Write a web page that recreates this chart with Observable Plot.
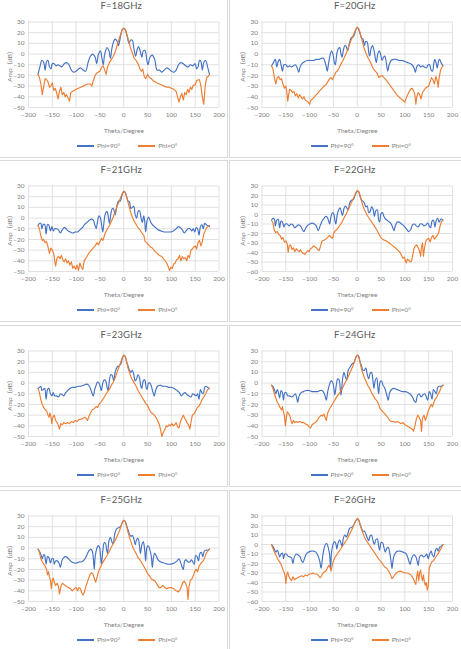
<!DOCTYPE html>
<html>
<head>
<meta charset="utf-8">
<script src="https://cdn.jsdelivr.net/npm/d3@7"></script>
<script src="https://cdn.jsdelivr.net/npm/@observablehq/plot@0.6"></script>
<style>
  html, body { margin: 0; padding: 0; background: #fff; }
  body { width: 461px; height: 649px; overflow: hidden; position: relative;
         font-family: Lato, "Noto Sans CJK SC", "DejaVu Sans", sans-serif; }
  .box { position: absolute; border: 1px solid #d9d9d9; box-sizing: border-box; }
  .title { position: absolute; width: 120px; text-align: center; font-size: 9.5px;
           line-height: 12px; color: #595959; white-space: nowrap; letter-spacing: 0.2px; }
  .chart { position: absolute; }
  .legend { position: absolute; width: 200px; display: flex; justify-content: center;
            align-items: center; font-size: 6.5px; line-height: 8px; color: #7f7f7f; white-space: nowrap; }
  .legend .sw { display: inline-block; width: 17px; height: 1.3px; margin-right: 3px; }
  .legend .it { display: flex; align-items: center; margin: 0 9px; }
</style>
</head>
<body>
<script>
// ---------- data ----------
const freqLabels = ["F=18GHz", "F=20GHz", "F=21GHz", "F=22GHz", "F=23GHz", "F=24GHz", "F=25GHz", "F=26GHz"];
const yMins = [-50, -50, -50, -60, -50, -50, -50, -60];
const yMax = 30;
const xTicks = [-200, -150, -100, -50, 0, 50, 100, 150, 200];
const seriesNames = ["Phi=90°", "Phi=0°"];
const seriesColors = ["#4472C4", "#ED7D31"];
const xLabel = "Theta/Degree";
const yLabel = "Amp（dB）";

const f18_phi90 = [[-180,-19],[-176,-12],[-172,-6],[-168,-8],[-165,-15],[-162,-7],[-159,-6],[-156,-12],[-153,-14],[-150,-9],[-146,-9],[-142,-11],[-138,-10],[-134,-11],[-130,-12],[-125,-9],[-120,-8],[-115,-10],[-110,-15],[-105,-17],[-100,-16],[-95,-14],[-90,-13],[-85,-15],[-80,-16],[-75,-8],[-70,-2],[-65,0],[-60,-3],[-57,-9],[-53,0],[-49,3],[-46,-3],[-43,-10],[-40,0],[-35,6],[-31,3],[-28,-4],[-25,5],[-21,12],[-18,14],[-14,12],[-11,8],[-7,16],[-3,23],[0,24],[3,23],[7,17],[11,10],[14,13],[18,13],[21,6],[25,-2],[28,4],[31,7],[35,2],[38,-3],[41,3],[45,3],[48,-5],[51,-10],[55,-3],[60,-1],[65,-5],[70,-15],[75,-15],[80,-17],[85,-15],[90,-13],[95,-14],[100,-16],[105,-17],[110,-15],[115,-10],[120,-8],[125,-9],[130,-11],[135,-12],[140,-10],[145,-11],[150,-9],[153,-14],[156,-12],[159,-6],[162,-7],[165,-15],[168,-8],[172,-6],[176,-12],[180,-19]];
const f18_phi0 = [[-180,-19],[-177,-22],[-174,-28],[-171,-38],[-168,-30],[-165,-23],[-162,-24],[-159,-26],[-156,-31],[-153,-30],[-150,-27],[-147,-34],[-144,-32],[-141,-36],[-138,-42],[-135,-35],[-132,-31],[-129,-38],[-126,-36],[-123,-40],[-120,-38],[-117,-41],[-114,-44],[-111,-36],[-108,-35],[-104,-34],[-100,-33],[-95,-32],[-90,-31],[-85,-30],[-80,-29],[-75,-28],[-70,-28],[-67,-30],[-64,-25],[-60,-20],[-57,-18],[-54,-17],[-50,-16],[-46,-12],[-43,-11],[-40,-15],[-37,-19],[-34,-12],[-30,-8],[-26,-5],[-22,-2],[-18,2],[-14,8],[-10,14],[-6,19],[-3,23],[0,24],[3,23],[6,19],[10,13],[14,6],[18,1],[22,-4],[26,-6],[30,-9],[34,-14],[37,-16],[40,-14],[43,-21],[46,-23],[50,-19],[54,-22],[58,-23],[62,-25],[66,-26],[70,-27],[75,-28],[80,-29],[85,-30],[90,-31],[95,-31],[100,-32],[105,-33],[110,-35],[113,-40],[116,-45],[119,-40],[122,-37],[125,-43],[128,-36],[131,-38],[134,-33],[137,-36],[140,-31],[143,-33],[146,-29],[150,-29],[153,-25],[156,-24],[159,-24],[162,-30],[165,-40],[168,-47],[171,-30],[174,-22],[177,-21],[180,-19]];

const f20_phi90 = [[-180,-11],[-176,-8],[-172,-5],[-169,-12],[-166,-7],[-163,-5],[-160,-10],[-157,-16],[-154,-10],[-150,-10],[-146,-12],[-142,-11],[-138,-12],[-134,-11],[-130,-10],[-126,-13],[-123,-17],[-120,-12],[-116,-9],[-110,-7],[-104,-6],[-98,-6],[-92,-6],[-86,-5],[-80,-5],[-75,-4],[-71,-4],[-68,-7],[-65,-12],[-63,-16],[-60,-8],[-57,-1],[-54,3],[-51,0],[-48,-8],[-46,-10],[-43,0],[-40,5],[-37,6],[-34,0],[-32,-3],[-29,4],[-26,8],[-23,7],[-20,3],[-17,9],[-13,15],[-9,16],[-6,18],[-3,23],[0,25],[3,23],[6,19],[9,15],[12,14],[15,8],[18,12],[21,11],[24,2],[26,-2],[29,5],[32,8],[35,4],[38,-4],[40,-8],[43,0],[46,3],[49,0],[52,-6],[55,-3],[58,-2],[61,-8],[64,-16],[67,-10],[71,-6],[76,-5],[82,-5],[88,-6],[94,-6],[100,-7],[106,-8],[112,-9],[117,-11],[120,-14],[122,-17],[125,-12],[129,-10],[133,-12],[137,-11],[141,-12],[145,-13],[149,-10],[152,-10],[155,-15],[158,-16],[161,-8],[163,-5],[166,-9],[168,-13],[171,-6],[173,-5],[176,-8],[180,-11]];
const f20_phi0 = [[-180,-11],[-177,-14],[-174,-22],[-171,-28],[-168,-22],[-165,-21],[-162,-24],[-159,-23],[-156,-28],[-153,-32],[-150,-30],[-148,-35],[-146,-44],[-144,-38],[-142,-33],[-139,-34],[-136,-36],[-133,-35],[-130,-39],[-127,-37],[-124,-41],[-121,-38],[-118,-40],[-115,-42],[-112,-40],[-109,-43],[-106,-44],[-103,-45],[-100,-47],[-97,-43],[-94,-42],[-90,-40],[-86,-38],[-82,-36],[-78,-34],[-74,-32],[-70,-30],[-66,-29],[-62,-26],[-58,-23],[-55,-22],[-52,-24],[-48,-20],[-45,-17],[-42,-16],[-38,-13],[-34,-9],[-30,-6],[-26,-2],[-22,2],[-18,7],[-14,12],[-10,16],[-6,20],[-3,23],[0,25],[3,24],[6,20],[10,13],[14,6],[18,1],[22,-3],[26,-6],[30,-10],[34,-14],[38,-16],[42,-18],[45,-22],[48,-21],[52,-20],[56,-22],[60,-24],[65,-27],[70,-30],[75,-33],[80,-36],[85,-39],[90,-41],[95,-43],[100,-45],[103,-41],[106,-38],[109,-35],[112,-33],[115,-32],[118,-34],[121,-38],[123,-47],[125,-40],[128,-36],[131,-38],[134,-42],[137,-36],[140,-34],[143,-32],[146,-31],[150,-30],[153,-26],[156,-22],[159,-24],[162,-28],[165,-21],[168,-25],[170,-31],[172,-22],[175,-15],[178,-12],[180,-11]];

const f21_phi90 = [[-180,-7],[-177,-5],[-174,-5],[-172,-10],[-169,-6],[-166,-6],[-163,-15],[-160,-6],[-157,-7],[-154,-12],[-151,-8],[-148,-12],[-145,-10],[-141,-10],[-137,-11],[-133,-14],[-129,-11],[-125,-9],[-121,-10],[-117,-12],[-112,-13],[-107,-14],[-102,-13],[-97,-13],[-92,-11],[-87,-9],[-82,-6],[-77,-4],[-72,-2],[-68,-1],[-64,-2],[-61,-6],[-58,-10],[-55,-3],[-52,2],[-49,0],[-46,-8],[-44,-13],[-41,-2],[-38,5],[-35,6],[-32,0],[-30,-5],[-27,4],[-24,9],[-21,8],[-18,3],[-15,10],[-11,16],[-7,16],[-4,21],[0,25],[3,24],[6,20],[9,16],[12,15],[15,9],[18,10],[21,11],[24,3],[27,0],[30,6],[33,7],[36,1],[39,-4],[42,2],[44,-3],[46,-13],[49,-2],[52,1],[55,-2],[58,-5],[62,-7],[67,-9],[72,-11],[78,-12],[85,-13],[92,-13],[98,-13],[104,-12],[110,-10],[115,-8],[119,-9],[123,-11],[127,-14],[131,-12],[135,-10],[139,-10],[143,-12],[146,-10],[149,-13],[152,-9],[155,-10],[158,-16],[161,-8],[164,-6],[167,-10],[170,-5],[173,-6],[176,-7],[180,-8]];
const f21_phi0 = [[-180,-7],[-177,-10],[-174,-17],[-171,-21],[-168,-20],[-165,-23],[-162,-22],[-159,-27],[-156,-33],[-153,-28],[-150,-30],[-147,-33],[-145,-40],[-143,-45],[-140,-37],[-137,-36],[-134,-38],[-131,-35],[-128,-39],[-125,-41],[-122,-38],[-119,-42],[-116,-40],[-113,-44],[-110,-41],[-107,-47],[-104,-45],[-101,-48],[-98,-44],[-95,-49],[-92,-42],[-89,-46],[-86,-48],[-83,-40],[-80,-38],[-76,-35],[-72,-32],[-68,-30],[-64,-28],[-60,-26],[-56,-23],[-53,-25],[-50,-22],[-47,-19],[-44,-21],[-41,-17],[-38,-13],[-34,-10],[-30,-7],[-26,-3],[-22,1],[-18,6],[-14,11],[-10,15],[-6,20],[-3,23],[0,25],[3,24],[6,20],[10,13],[14,6],[18,1],[22,-3],[26,-6],[30,-9],[34,-11],[38,-14],[42,-16],[45,-22],[48,-23],[52,-25],[56,-27],[60,-28],[65,-31],[70,-33],[75,-35],[80,-36],[85,-39],[90,-42],[93,-45],[96,-49],[99,-46],[102,-47],[105,-43],[108,-42],[111,-39],[114,-38],[117,-35],[120,-40],[123,-36],[126,-38],[129,-37],[132,-40],[135,-35],[138,-37],[141,-30],[144,-29],[147,-27],[150,-26],[153,-29],[156,-23],[159,-21],[162,-26],[165,-22],[168,-15],[171,-12],[174,-9],[177,-8],[180,-7]];

const f22_phi90 = [[-180,-6],[-177,-4],[-174,-5],[-172,-12],[-169,-6],[-166,-5],[-163,-14],[-160,-7],[-157,-8],[-154,-13],[-151,-10],[-147,-10],[-143,-12],[-139,-10],[-135,-11],[-131,-14],[-127,-12],[-122,-11],[-118,-13],[-115,-16],[-112,-18],[-109,-15],[-105,-12],[-100,-10],[-95,-9],[-90,-10],[-86,-12],[-82,-17],[-78,-12],[-74,-7],[-70,-4],[-66,-2],[-63,-3],[-60,-7],[-58,-10],[-55,-2],[-52,2],[-49,0],[-47,-6],[-45,-10],[-42,0],[-39,5],[-36,7],[-33,2],[-31,-1],[-28,6],[-25,9],[-22,7],[-19,5],[-16,12],[-12,15],[-8,16],[-4,21],[0,25],[3,24],[6,19],[9,15],[12,14],[15,12],[18,8],[21,9],[24,2],[27,3],[30,8],[33,6],[36,-2],[39,4],[42,5],[45,-6],[47,-8],[50,1],[53,2],[56,-2],[60,-5],[65,-7],[70,-9],[74,-13],[77,-17],[80,-12],[84,-8],[88,-8],[93,-10],[98,-12],[103,-15],[108,-18],[112,-16],[116,-11],[120,-10],[124,-12],[128,-13],[132,-10],[136,-10],[140,-12],[144,-11],[148,-9],[151,-12],[154,-14],[157,-7],[160,-6],[163,-13],[166,-6],[169,-4],[172,-8],[175,-5],[178,-5],[180,-6]];
const f22_phi0 = [[-180,-6],[-177,-9],[-174,-17],[-171,-19],[-168,-18],[-165,-21],[-162,-22],[-159,-26],[-156,-24],[-153,-29],[-150,-28],[-147,-31],[-145,-40],[-143,-33],[-140,-32],[-137,-37],[-134,-35],[-131,-39],[-128,-36],[-125,-38],[-122,-39],[-119,-37],[-116,-40],[-113,-41],[-110,-42],[-107,-40],[-104,-38],[-101,-39],[-98,-36],[-95,-35],[-92,-33],[-89,-34],[-86,-35],[-83,-37],[-80,-38],[-77,-33],[-74,-28],[-70,-27],[-66,-26],[-62,-24],[-58,-22],[-55,-24],[-52,-25],[-49,-19],[-46,-17],[-43,-16],[-40,-14],[-36,-11],[-32,-8],[-28,-4],[-24,0],[-20,4],[-16,8],[-12,13],[-8,17],[-4,22],[0,25],[3,24],[6,20],[9,14],[12,9],[15,5],[18,2],[21,-1],[25,-4],[29,-7],[33,-10],[37,-13],[41,-16],[45,-20],[49,-24],[53,-26],[57,-27],[62,-28],[67,-30],[72,-32],[77,-34],[82,-36],[86,-38],[90,-40],[93,-43],[96,-46],[99,-45],[101,-49],[103,-51],[105,-47],[108,-48],[111,-50],[114,-49],[116,-44],[119,-36],[122,-33],[125,-32],[128,-35],[131,-39],[133,-44],[135,-34],[137,-30],[139,-44],[141,-36],[144,-28],[147,-26],[150,-25],[153,-29],[156,-24],[159,-22],[162,-26],[165,-24],[168,-22],[171,-19],[174,-12],[177,-7],[180,-6]];

const f23_phi90 = [[-180,-5],[-177,-4],[-174,-3],[-172,-7],[-169,-6],[-166,-5],[-163,-15],[-160,-6],[-157,-5],[-154,-10],[-151,-12],[-148,-9],[-145,-12],[-141,-12],[-137,-13],[-133,-10],[-129,-11],[-126,-12],[-122,-9],[-118,-7],[-113,-5],[-108,-4],[-102,-4],[-96,-3],[-90,-3],[-84,-2],[-78,-1],[-74,-2],[-70,-5],[-67,-9],[-64,-12],[-61,-6],[-58,-2],[-55,1],[-52,0],[-49,-4],[-47,-7],[-44,0],[-41,3],[-38,2],[-35,-4],[-33,-7],[-30,3],[-27,8],[-24,7],[-21,2],[-18,10],[-14,15],[-10,16],[-6,18],[-3,23],[0,26],[3,25],[6,20],[9,16],[12,12],[15,10],[18,12],[21,8],[24,2],[27,4],[30,8],[33,5],[36,-3],[38,-5],[41,2],[44,3],[47,-4],[49,-6],[52,0],[55,0],[58,-3],[61,-8],[64,-12],[67,-7],[71,-3],[76,-2],[82,-3],[88,-3],[94,-4],[100,-4],[106,-5],[112,-7],[117,-9],[121,-12],[125,-10],[129,-9],[133,-11],[137,-12],[141,-13],[145,-10],[149,-11],[152,-12],[155,-10],[158,-15],[161,-6],[164,-9],[167,-10],[170,-4],[173,-3],[176,-4],[180,-5]];
const f23_phi0 = [[-180,-5],[-177,-9],[-174,-16],[-171,-20],[-168,-23],[-165,-25],[-162,-26],[-159,-30],[-157,-32],[-155,-28],[-153,-31],[-151,-38],[-149,-32],[-146,-30],[-143,-35],[-140,-37],[-137,-40],[-135,-43],[-132,-38],[-129,-39],[-126,-37],[-122,-38],[-118,-37],[-114,-38],[-110,-36],[-106,-37],[-102,-35],[-98,-36],[-94,-34],[-90,-34],[-86,-33],[-82,-32],[-79,-33],[-76,-35],[-73,-31],[-70,-28],[-66,-25],[-62,-24],[-58,-22],[-55,-23],[-52,-20],[-48,-18],[-45,-16],[-42,-14],[-38,-11],[-34,-8],[-30,-6],[-26,-2],[-22,1],[-18,5],[-14,10],[-10,15],[-6,20],[-3,24],[0,26],[3,25],[6,20],[9,14],[12,10],[15,6],[18,3],[22,0],[26,-3],[30,-7],[34,-10],[38,-13],[42,-16],[46,-19],[50,-21],[54,-25],[58,-28],[62,-29],[66,-31],[70,-34],[74,-38],[77,-43],[80,-50],[83,-46],[86,-44],[89,-40],[92,-41],[95,-39],[98,-40],[101,-38],[104,-40],[107,-39],[110,-37],[113,-41],[116,-42],[119,-36],[122,-33],[125,-30],[128,-33],[131,-35],[134,-38],[137,-40],[139,-43],[141,-37],[144,-30],[147,-29],[150,-27],[153,-24],[156,-22],[159,-21],[162,-18],[165,-15],[168,-13],[172,-10],[176,-6],[180,-5]];

const f24_phi90 = [[-180,-2],[-177,-3],[-174,-6],[-171,-10],[-168,-6],[-166,-8],[-163,-14],[-160,-7],[-157,-9],[-155,-16],[-152,-9],[-149,-9],[-146,-12],[-142,-12],[-138,-13],[-134,-12],[-130,-10],[-127,-14],[-125,-18],[-122,-12],[-118,-9],[-113,-8],[-107,-7],[-101,-7],[-95,-8],[-89,-8],[-83,-8],[-78,-7],[-74,-7],[-70,-9],[-67,-13],[-65,-16],[-62,-8],[-58,-1],[-55,2],[-52,1],[-49,-5],[-47,-11],[-44,-2],[-41,4],[-38,3],[-36,-4],[-34,-11],[-31,3],[-28,10],[-25,6],[-22,3],[-19,12],[-15,15],[-11,18],[-7,19],[-3,24],[0,26],[3,25],[6,20],[9,16],[12,12],[15,12],[18,14],[21,8],[24,4],[27,9],[30,10],[33,2],[35,-5],[38,3],[41,5],[43,-3],[45,-10],[48,1],[51,2],[54,-2],[57,-4],[60,-8],[63,-13],[65,-16],[68,-9],[72,-6],[77,-5],[83,-6],[89,-7],[95,-8],[101,-8],[107,-9],[113,-11],[117,-14],[120,-17],[123,-18],[126,-12],[130,-10],[134,-13],[138,-11],[142,-10],[145,-13],[148,-16],[151,-8],[154,-10],[157,-15],[160,-6],[163,-8],[166,-10],[169,-4],[172,-3],[176,-3],[180,-2]];
const f24_phi0 = [[-180,-2],[-177,-5],[-174,-10],[-171,-14],[-168,-18],[-165,-20],[-162,-23],[-159,-25],[-157,-22],[-155,-27],[-153,-30],[-151,-40],[-149,-33],[-147,-27],[-145,-28],[-142,-30],[-139,-35],[-137,-38],[-134,-35],[-131,-37],[-128,-36],[-125,-37],[-121,-36],[-117,-37],[-113,-37],[-109,-38],[-105,-39],[-101,-41],[-98,-42],[-95,-39],[-92,-38],[-88,-37],[-84,-35],[-80,-32],[-76,-30],[-73,-31],[-70,-29],[-67,-33],[-65,-35],[-62,-28],[-58,-24],[-54,-21],[-50,-18],[-46,-15],[-42,-12],[-38,-10],[-34,-7],[-30,-4],[-26,0],[-22,3],[-18,7],[-14,11],[-10,15],[-6,20],[-3,24],[0,26],[3,25],[6,19],[9,13],[12,9],[15,5],[18,2],[22,-2],[26,-5],[30,-9],[34,-12],[38,-15],[42,-17],[45,-20],[48,-24],[52,-26],[56,-28],[60,-30],[64,-32],[68,-35],[72,-36],[76,-36],[80,-37],[84,-36],[88,-37],[92,-38],[96,-37],[100,-39],[104,-40],[108,-41],[112,-42],[115,-43],[118,-45],[121,-40],[124,-34],[127,-30],[130,-32],[133,-35],[135,-45],[137,-33],[140,-30],[143,-35],[146,-31],[149,-26],[152,-23],[155,-20],[158,-22],[161,-18],[164,-15],[167,-13],[170,-10],[173,-8],[176,-4],[180,-2]];

const f25_phi90 = [[-180,-1],[-177,-3],[-174,-6],[-171,-10],[-168,-6],[-166,-7],[-163,-15],[-160,-8],[-157,-9],[-154,-14],[-151,-10],[-148,-10],[-146,-15],[-143,-12],[-140,-12],[-136,-14],[-133,-18],[-130,-12],[-126,-9],[-122,-8],[-118,-9],[-114,-11],[-109,-13],[-104,-14],[-99,-14],[-94,-13],[-89,-13],[-85,-12],[-80,-9],[-76,-5],[-72,-2],[-69,-1],[-66,-3],[-64,-9],[-62,-20],[-60,-8],[-57,-1],[-54,2],[-51,1],[-49,-6],[-47,-15],[-44,-3],[-41,5],[-38,4],[-36,-2],[-34,-5],[-31,7],[-28,10],[-25,6],[-22,4],[-19,13],[-15,18],[-11,19],[-7,20],[-3,24],[0,26],[3,25],[6,21],[9,17],[12,13],[15,11],[18,12],[21,9],[24,3],[27,8],[30,9],[33,2],[35,-5],[38,3],[41,6],[44,-2],[46,-12],[49,1],[52,2],[55,-2],[58,-8],[60,-18],[62,-10],[65,-5],[68,-7],[72,-11],[78,-13],[85,-14],[92,-15],[99,-15],[106,-14],[112,-12],[116,-10],[119,-13],[122,-17],[125,-20],[128,-12],[131,-11],[135,-13],[139,-13],[142,-11],[145,-13],[148,-15],[151,-7],[154,-8],[157,-12],[160,-5],[163,-4],[166,-8],[169,-3],[172,-2],[176,-2],[180,-1]];
const f25_phi0 = [[-180,-1],[-177,-4],[-174,-10],[-171,-13],[-168,-15],[-165,-17],[-162,-20],[-160,-25],[-158,-22],[-156,-27],[-154,-30],[-152,-38],[-150,-30],[-148,-28],[-146,-32],[-143,-35],[-140,-33],[-137,-36],[-135,-43],[-132,-36],[-129,-33],[-126,-34],[-123,-35],[-120,-36],[-116,-37],[-112,-38],[-108,-40],[-104,-38],[-100,-37],[-97,-40],[-94,-37],[-91,-38],[-88,-42],[-85,-44],[-82,-40],[-79,-35],[-75,-30],[-71,-25],[-68,-23],[-65,-24],[-62,-28],[-59,-32],[-56,-27],[-53,-22],[-50,-19],[-46,-15],[-42,-12],[-38,-9],[-34,-6],[-30,-3],[-26,1],[-22,4],[-18,7],[-14,11],[-10,15],[-6,20],[-3,24],[0,26],[3,25],[6,20],[9,15],[12,10],[15,6],[18,2],[22,-2],[26,-5],[30,-9],[34,-11],[38,-14],[42,-17],[46,-20],[50,-24],[54,-26],[58,-29],[62,-30],[66,-31],[70,-34],[74,-37],[78,-37],[82,-35],[86,-37],[90,-38],[95,-37],[100,-37],[105,-38],[110,-40],[115,-41],[118,-39],[121,-36],[124,-32],[127,-31],[130,-33],[133,-37],[135,-48],[137,-36],[140,-30],[143,-29],[146,-26],[149,-22],[152,-20],[155,-22],[158,-17],[161,-15],[164,-13],[167,-12],[170,-9],[173,-5],[176,-3],[180,-1]];

const f26_phi90 = [[-180,0],[-177,-2],[-174,-5],[-171,-8],[-168,-6],[-166,-8],[-163,-13],[-160,-10],[-157,-9],[-155,-15],[-152,-10],[-149,-10],[-146,-12],[-142,-13],[-138,-14],[-135,-20],[-132,-13],[-128,-10],[-124,-11],[-120,-13],[-117,-17],[-114,-19],[-111,-15],[-107,-10],[-102,-8],[-97,-7],[-92,-7],[-87,-8],[-83,-11],[-79,-17],[-76,-25],[-73,-14],[-70,-5],[-67,0],[-64,1],[-61,-3],[-58,-11],[-56,-25],[-54,-8],[-51,0],[-48,3],[-45,1],[-43,-5],[-40,2],[-37,5],[-34,1],[-32,-2],[-29,7],[-26,10],[-23,8],[-20,11],[-16,17],[-12,18],[-8,20],[-4,24],[0,27],[3,26],[6,21],[9,17],[12,14],[15,14],[18,11],[21,7],[24,4],[27,9],[30,10],[33,4],[36,0],[39,5],[42,6],[45,-2],[47,-6],[50,2],[53,2],[56,-3],[59,-8],[62,-4],[65,-3],[68,-8],[71,-18],[73,-25],[76,-14],[80,-9],[85,-7],[90,-7],[96,-8],[101,-9],[105,-12],[108,-17],[111,-21],[114,-15],[118,-11],[122,-12],[125,-16],[128,-22],[131,-13],[135,-11],[139,-13],[143,-12],[146,-10],[149,-15],[152,-10],[155,-7],[158,-11],[161,-13],[164,-6],[167,-4],[170,-7],[173,-3],[176,-2],[180,0]];
const f26_phi0 = [[-180,0],[-177,-4],[-174,-8],[-171,-11],[-168,-14],[-165,-17],[-162,-19],[-159,-22],[-157,-25],[-155,-28],[-153,-30],[-151,-35],[-150,-41],[-148,-32],[-146,-29],[-144,-33],[-141,-36],[-138,-38],[-135,-34],[-132,-37],[-129,-36],[-125,-35],[-121,-34],[-117,-33],[-113,-34],[-109,-32],[-105,-33],[-101,-31],[-97,-31],[-93,-30],[-89,-31],[-85,-31],[-81,-33],[-78,-35],[-75,-33],[-72,-30],[-69,-29],[-66,-28],[-63,-25],[-60,-22],[-57,-24],[-55,-28],[-53,-23],[-50,-17],[-46,-13],[-42,-10],[-38,-7],[-34,-4],[-30,-1],[-26,2],[-22,5],[-18,9],[-14,13],[-10,17],[-6,22],[-3,25],[0,27],[3,26],[6,21],[9,16],[12,12],[15,8],[18,5],[22,2],[26,-1],[30,-4],[34,-7],[38,-10],[42,-13],[46,-16],[50,-18],[54,-21],[58,-24],[62,-25],[66,-28],[70,-32],[73,-36],[76,-34],[80,-31],[85,-29],[90,-28],[95,-29],[100,-30],[105,-30],[110,-31],[114,-33],[118,-36],[121,-40],[123,-42],[125,-33],[127,-28],[129,-38],[131,-30],[133,-27],[135,-34],[137,-38],[139,-32],[141,-40],[143,-43],[145,-40],[147,-48],[149,-44],[151,-25],[154,-21],[157,-18],[160,-17],[164,-14],[168,-11],[172,-8],[176,-4],[180,0]];

const phi90Series = [f18_phi90, f20_phi90, f21_phi90, f22_phi90, f23_phi90, f24_phi90, f25_phi90, f26_phi90];
const phi0Series  = [f18_phi0,  f20_phi0,  f21_phi0,  f22_phi0,  f23_phi0,  f24_phi0,  f25_phi0,  f26_phi0];

// ---------- layout ----------
const rowTops = [-4, 160, 325, 490];
const colLefts = [0, 230];
const svgWidths = [228, 230];
const marginLefts = [28, 31.5];
const marginRights = [9.5, 8];
const boxLeft = [-10, 229];
const boxWidth = [238, 233];

freqLabels.forEach((label, i) => {
  const r = Math.floor(i / 2), c = i % 2;
  const T = rowTops[r];

  const box = document.createElement("div");
  box.className = "box";
  Object.assign(box.style, { left: boxLeft[c] + "px", top: T + "px", width: boxWidth[c] + "px", height: "162px" });
  document.body.appendChild(box);

  const plotCenter = colLefts[c] + marginLefts[c] + (svgWidths[c] - marginLefts[c] - marginRights[c]) / 2;

  const title = document.createElement("div");
  title.className = "title";
  title.textContent = label;
  Object.assign(title.style, { left: (plotCenter - 2 - 60) + "px", top: (T + 4) + "px" });
  document.body.appendChild(title);

  const yTicks = d3.range(yMins[i], yMax + 1, 10);
  const chart = Plot.plot({
    width: svgWidths[c],
    height: 126,
    marginLeft: marginLefts[c],
    marginRight: marginRights[c],
    marginTop: 10.5,
    marginBottom: 30,
    style: { fontSize: "6.5px", color: "#808080", fontFamily: 'Lato, "Noto Sans CJK SC", sans-serif', background: "transparent", overflow: "visible" },
    x: { domain: [-200, 200], ticks: xTicks, tickSize: 0, tickPadding: 5, label: xLabel, labelAnchor: "center", labelOffset: 25, labelArrow: "none" },
    y: { domain: [yMins[i], yMax], ticks: yTicks, tickSize: 0, tickPadding: 4, label: yLabel, labelAnchor: "center", labelOffset: 21.5, labelArrow: "none" },
    marks: [
      Plot.ruleX(xTicks, { stroke: "#d9d9d9", strokeWidth: 0.8 }),
      Plot.ruleY(yTicks, { stroke: "#d9d9d9", strokeWidth: 0.8 }),
      Plot.line(phi90Series[i], { x: d => d[0], y: d => d[1], stroke: seriesColors[0], strokeWidth: 1.15, curve: "catmull-rom" }),
      Plot.line(phi0Series[i], { x: d => d[0], y: d => d[1], stroke: seriesColors[1], strokeWidth: 1.15 })
    ]
  });
  chart.classList.add("chart");
  chart.style.left = colLefts[c] + "px";
  chart.style.top = (T + 15) + "px";
  document.body.appendChild(chart);

  const legend = document.createElement("div");
  legend.className = "legend";
  Object.assign(legend.style, { left: (plotCenter + 4 - 100) + "px", top: (T + 146) + "px" });
  seriesNames.forEach((name, k) => {
    const it = document.createElement("span");
    it.className = "it";
    const sw = document.createElement("span");
    sw.className = "sw";
    sw.style.background = seriesColors[k];
    it.appendChild(sw);
    it.appendChild(document.createTextNode(name));
    legend.appendChild(it);
  });
  document.body.appendChild(legend);
});
</script>
</body>
</html>
